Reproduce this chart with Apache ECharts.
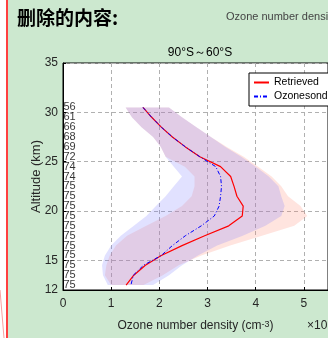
<!DOCTYPE html>
<html>
<head>
<meta charset="utf-8">
<script src="https://cdn.jsdelivr.net/npm/echarts@6.0.0/dist/echarts.min.js"></script>
<style>
  html, body { margin: 0; padding: 0; background: #cce8cf; }
  #chart { width: 328px; height: 338px; }
</style>
</head>
<body>
<div id="chart"></div>
<script>
// altitude levels (km) and sample counts per level
const altitudes = [30.5, 29.5, 28.5, 27.5, 26.5, 25.5, 24.5, 23.5, 22.5, 21.5, 20.5, 19.5, 18.5, 17.5, 16.5, 15.5, 14.5, 13.5, 12.5]
const counts = [56, 61, 66, 68, 69, 72, 74, 74, 75, 75, 75, 75, 75, 75, 75, 75, 75, 75, 75]

// mean profiles (x10^12 cm-3)
const retrieved = [1.66, 1.84, 2.04, 2.27, 2.54, 2.84, 3.27, 3.48, 3.55, 3.61, 3.74, 3.72, 3.44, 2.94, 2.47, 2.04, 1.71, 1.47, 1.31]
const sonde = [1.66, 1.84, 2.04, 2.27, 2.54, 2.84, 3.17, 3.27, 3.29, 3.27, 3.24, 3.14, 2.87, 2.54, 2.27, 2.04, 1.67, 1.46, 1.41]

// spread bands
const retLo = [1.30, 1.43, 1.63, 1.87, 2.03, 2.13, 2.53, 2.73, 2.73, 2.67, 2.47, 2.13, 1.73, 1.33, 1.10, 0.97, 0.90, 0.87, 1.00]
const retHi = [2.20, 2.47, 2.77, 3.07, 3.40, 3.75, 4.05, 4.33, 4.53, 4.67, 4.93, 5.07, 4.80, 4.13, 3.47, 2.87, 2.40, 2.07, 1.67]
const sondeLo = [1.30, 1.43, 1.63, 1.87, 2.03, 2.13, 2.30, 2.47, 2.30, 2.13, 1.93, 1.73, 1.47, 1.20, 1.00, 0.87, 0.81, 0.83, 0.93]
const sondeHi = [2.20, 2.47, 2.77, 3.07, 3.37, 3.70, 4.00, 4.27, 4.47, 4.53, 4.60, 4.53, 4.20, 3.73, 3.20, 2.80, 2.47, 2.20, 1.87]

const yTicks = [12, 15, 20, 25, 30, 35]

const font = 'Liberation Sans, Arial, sans-serif'

function band(lo, hi, color) {
  return {
    type: 'custom',
    silent: true,
    data: [0],
    renderItem: function (params, api) {
      const pts = []
      altitudes.forEach((a, i) => pts.push(api.coord([lo[i], a])))
      for (let i = altitudes.length - 1; i >= 0; i--) pts.push(api.coord([hi[i], altitudes[i]]))
      return { type: 'polygon', shape: { points: pts }, style: { fill: color } }
    }
  }
}

const chart = echarts.init(document.getElementById('chart'))

chart.setOption({
  animation: false,
  textStyle: { fontFamily: font },
  grid: {
    left: 63, top: 63, right: -10, bottom: 48,
    show: true, backgroundColor: '#fff', borderColor: '#000', borderWidth: 1
  },
  legend: {
    left: 249, top: 73, orient: 'vertical',
    backgroundColor: '#fff', borderColor: '#000', borderWidth: 1,
    padding: [4, 40, 4, 4], itemWidth: 15, itemHeight: 10, itemGap: 3,
    itemStyle: { opacity: 0 },
    textStyle: { fontSize: 10.5, color: '#000', fontFamily: font },
    data: ['Retrieved', 'Ozonesonde']
  },
  xAxis: {
    type: 'value', min: 0, max: 5.5, interval: 1,
    name: 'Ozone number density (cm{sup|-3})',
    nameLocation: 'middle', nameGap: 30, nameMoveOverlap: false,
    nameTextStyle: {
      fontSize: 12, color: '#262626',
      rich: { sup: { fontSize: 9, verticalAlign: 'top', color: '#262626' } }
    },
    axisLine: { lineStyle: { color: '#000' } },
    axisTick: { inside: true, length: 3, lineStyle: { color: '#000' } },
    axisLabel: { fontSize: 12, color: '#262626', margin: 8, showMaxLabel: false },
    splitLine: { lineStyle: { color: '#b0b0b0', type: [4, 3] } }
  },
  yAxis: {
    type: 'value', min: 12, max: 35,
    name: 'Altitude (km)', nameLocation: 'middle', nameGap: 20, nameMoveOverlap: false,
    nameTextStyle: { fontSize: 13, color: '#262626' },
    axisLine: { show: true, lineStyle: { color: '#000' } },
    axisTick: { show: true, inside: true, length: 3, customValues: yTicks, lineStyle: { color: '#000' } },
    axisLabel: { fontSize: 12, color: '#262626', margin: 5, customValues: yTicks },
    splitLine: { lineStyle: { color: '#b0b0b0', type: [4, 3] } }
  },
  series: [
    band(retLo, retHi, 'rgba(255,130,110,0.22)'),
    band(sondeLo, sondeHi, 'rgba(120,120,255,0.22)'),
    {
      name: 'Retrieved', type: 'line', symbol: 'none',
      lineStyle: { color: '#f00', width: 1.2 }, itemStyle: { color: '#f00' },
      data: altitudes.map((a, i) => [retrieved[i], a])
    },
    {
      name: 'Ozonesonde', type: 'line', symbol: 'none',
      lineStyle: { color: '#00f', width: 1, type: [4, 2, 1, 2] }, itemStyle: { color: '#00f' },
      data: altitudes.map((a, i) => [sonde[i], a])
    },
    {
      type: 'scatter', symbolSize: 1, silent: true, clip: false,
      itemStyle: { color: 'rgba(0,0,0,0)' },
      label: {
        show: true, position: 'right', distance: 0,
        fontSize: 11, color: '#000', fontFamily: 'Liberation Sans Narrow, Liberation Sans, sans-serif',
        formatter: p => p.value[2]
      },
      labelLayout: { hideOverlap: false },
      data: altitudes.map((a, i) => [0, a, counts[i]])
    }
  ],
  graphic: [
    { type: 'rect', shape: { x: 0, y: 0, width: 6, height: 338 }, style: { fill: '#fff' }, z: 100 },
    { type: 'rect', shape: { x: 6, y: 0, width: 2, height: 338 }, style: { fill: '#ff4040' }, z: 101 },
    { type: 'line', shape: { x1: 0, y1: 290, x2: 4, y2: 338 }, style: { stroke: '#f9a0a0', lineWidth: 1 }, z: 101 },
    {
      type: 'text', x: 17, y: 18, z: 100,
      style: { text: '删除的内容:', font: 'bold 19px "Noto Sans CJK SC"', fill: '#000', verticalAlign: 'middle' }
    },
    {
      type: 'text', x: 226, y: 17, z: 100,
      style: { text: 'Ozone number density', font: '11px ' + font, fill: '#444', verticalAlign: 'middle' }
    },
    {
      type: 'text', x: 200, y: 53, z: 100,
      style: { text: '90°S～60°S', font: '12px ' + font, fill: '#000', align: 'center', verticalAlign: 'middle' }
    },
    {
      type: 'text', x: 307, y: 326, z: 100,
      style: { text: '×10', font: '12px ' + font, fill: '#262626', verticalAlign: 'middle' }
    }
  ]
})
</script>
</body>
</html>
